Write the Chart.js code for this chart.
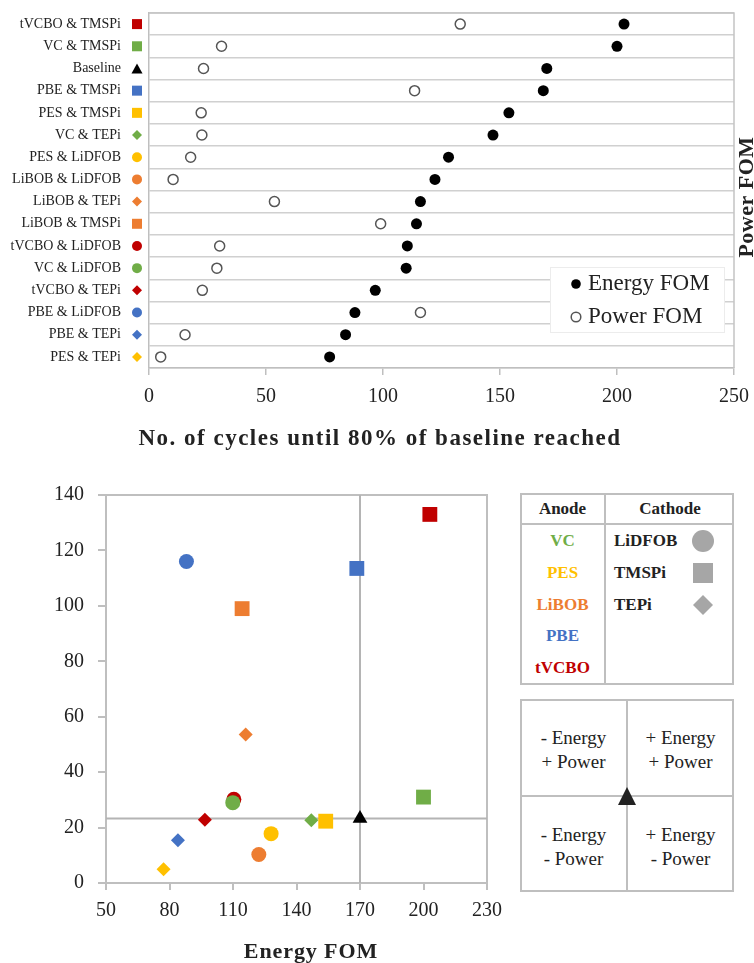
<!DOCTYPE html>
<html>
<head>
<meta charset="utf-8">
<script src="https://cdn.jsdelivr.net/npm/chart.js@4.4.1/dist/chart.umd.min.js"></script>
<style>
  html, body { margin: 0; padding: 0; background: #fff; }
  body { width: 754px; height: 963px; position: relative; overflow: hidden;
         font-family: 'Liberation Serif', 'Times New Roman', serif; color: #222; }
  #rankWrap { position: absolute; left: 0; top: 0; }
  #fomWrap  { position: absolute; left: 0; top: 470px; }
  .panel { position: absolute; }
  .frame { position: absolute; left: 0; top: 0; right: 0; bottom: 0; border: 2px solid #bfbfbf; }
  .rule  { position: absolute; background: #bfbfbf; }
  .cell  { position: absolute; display: flex; align-items: center; white-space: nowrap; }
</style>
</head>
<body>
<div id="rankWrap"><canvas id="rankChart" width="754" height="465"></canvas></div>
<div id="fomWrap"><canvas id="fomChart" width="515" height="493"></canvas></div>
<div id="keyPanel" class="panel"></div>
<div id="quadPanel" class="panel"></div>

<script>
// ---------- data ----------
const combos = [
  'tVCBO & TMSPi', 'VC & TMSPi', 'Baseline', 'PBE & TMSPi', 'PES & TMSPi', 'VC & TEPi',
  'PES & LiDFOB', 'LiBOB & LiDFOB', 'LiBOB & TEPi', 'LiBOB & TMSPi', 'tVCBO & LiDFOB',
  'VC & LiDFOB', 'tVCBO & TEPi', 'PBE & LiDFOB', 'PBE & TEPi', 'PES & TEPi'
];
const energyFOM = [203, 200, 170, 168.5, 153.8, 147, 128, 122.2, 116, 114.3, 110.4, 109.9, 96.7, 88, 84, 77.2];
const powerFOM  = [133, 31, 23.3, 113.5, 22.3, 22.6, 17.8, 10.3, 53.6, 99, 30.2, 29, 22.8, 116, 15.4, 5];

const anodes      = ['VC', 'PES', 'LiBOB', 'PBE', 'tVCBO'];
const anodeColors = ['#70AD47', '#FFC000', '#ED7D31', '#4472C4', '#C00000'];
const cathodes    = ['LiDFOB', 'TMSPi', 'TEPi'];
const cathodeShapes = ['circle', 'rect', 'rectRot'];

const cycleTicks  = [0, 50, 100, 150, 200, 250];
const energyTicks = [50, 80, 110, 140, 170, 200, 230];
const powerTicks  = [0, 20, 40, 60, 80, 100, 120, 140];

const quadrantText = [
  ['- Energy', '+ Power'], ['+ Energy', '+ Power'],
  ['- Energy', '- Power'], ['+ Energy', '- Power']
];

// ---------- helpers ----------
const SERIF = "'Liberation Serif', 'Times New Roman', serif";
Chart.defaults.font.family = SERIF;
Chart.defaults.color = '#222';

function partsOf(label) {
  const [a, c] = label.split(' & ');
  return { anode: a, cathode: c };
}
function colorOf(label) {
  if (label === 'Baseline') return '#000';
  return anodeColors[anodes.indexOf(partsOf(label).anode)];
}
function shapeOf(label) {
  if (label === 'Baseline') return 'triangle';
  return cathodeShapes[cathodes.indexOf(partsOf(label).cathode)];
}
const scatterRadius = { circle: 7.5, rect: 10.5, rectRot: 7, triangle: 8.5 };

function drawMarker(ctx, shape, x, y, s, color) {
  ctx.save();
  ctx.fillStyle = color;
  ctx.beginPath();
  if (shape === 'circle') {
    ctx.arc(x, y, s / 2, 0, Math.PI * 2);
  } else if (shape === 'rect') {
    ctx.rect(x - s / 2, y - s / 2, s, s);
  } else if (shape === 'rectRot') {
    ctx.moveTo(x, y - s / 2); ctx.lineTo(x + s / 2, y);
    ctx.lineTo(x, y + s / 2); ctx.lineTo(x - s / 2, y);
    ctx.closePath();
  } else {
    ctx.moveTo(x, y - s / 2); ctx.lineTo(x + s * 0.55, y + s / 2);
    ctx.lineTo(x - s * 0.55, y + s / 2); ctx.closePath();
  }
  ctx.fill();
  ctx.restore();
}

// keep the plot area exactly where the layout puts it (no extra label overhang)
function noOverhang(s) {
  s.paddingTop = 0; s.paddingBottom = 0; s.paddingLeft = 0; s.paddingRight = 0;
}

// ---------- plugins ----------
const plotFrame = {
  id: 'plotFrame',
  beforeDatasetsDraw(chart, args, opts) {
    const { ctx, chartArea: a } = chart;
    ctx.save();
    ctx.strokeStyle = opts.color;
    ctx.lineWidth = opts.width;
    ctx.beginPath();
    ctx.moveTo(a.left, a.top);
    ctx.lineTo(a.right, a.top);
    ctx.lineTo(a.right, a.bottom);
    ctx.stroke();
    ctx.restore();
  }
};

const labelMarkers = {
  id: 'labelMarkers',
  afterDraw(chart, args, opts) {
    const ys = chart.scales.y;
    chart.data.labels.forEach((lab, i) => {
      drawMarker(chart.ctx, shapeOf(lab), opts.x, ys.getPixelForValue(i), opts.size, colorOf(lab));
    });
  }
};

const insetLegend = {
  id: 'insetLegend',
  afterDatasetsDraw(chart, args, opts) {
    const { ctx, chartArea: a } = chart;
    const x0 = a.right - opts.right - opts.width;
    const y0 = a.bottom - opts.bottom - opts.height;
    ctx.save();
    ctx.fillStyle = '#fff';
    ctx.fillRect(x0, y0, opts.width, opts.height);
    ctx.strokeStyle = '#ececec';
    ctx.lineWidth = 1;
    ctx.strokeRect(x0 + 0.5, y0 + 0.5, opts.width - 1, opts.height - 1);
    chart.data.datasets.forEach((ds, i) => {
      const cy = y0 + opts.firstRow + i * opts.rowGap;
      ctx.beginPath();
      ctx.arc(x0 + opts.markerX, cy, opts.markerR, 0, Math.PI * 2);
      ctx.fillStyle = ds.pointBackgroundColor;
      ctx.fill();
      if (ds.pointBorderWidth) {
        ctx.lineWidth = ds.pointBorderWidth;
        ctx.strokeStyle = ds.pointBorderColor;
        ctx.stroke();
      }
      ctx.fillStyle = '#222';
      ctx.font = opts.fontSize + 'px ' + SERIF;
      ctx.textBaseline = 'middle';
      ctx.textAlign = 'left';
      ctx.fillText(ds.label, x0 + opts.textX, cy);
    });
    ctx.restore();
  }
};

// bold captions (axis titles), optionally rotated, with a little tracking
const captions = {
  id: 'captions',
  afterDraw(chart, args, opts) {
    const ctx = chart.ctx;
    (opts.items || []).forEach(c => {
      ctx.save();
      ctx.translate(c.x, c.y);
      if (c.rotate) ctx.rotate(c.rotate);
      ctx.font = 'bold ' + c.size + 'px ' + SERIF;
      if ('letterSpacing' in ctx) ctx.letterSpacing = (c.spacing || 0) + 'px';
      ctx.fillStyle = '#222';
      ctx.textAlign = 'center';
      ctx.textBaseline = 'alphabetic';
      ctx.fillText(c.text, 0, 0);
      ctx.restore();
    });
  }
};

// ---------- ranking chart (cycles until 80% of baseline) ----------
new Chart(document.getElementById('rankChart'), {
  type: 'line',
  data: {
    labels: combos,
    datasets: [
      { label: 'Energy FOM', data: energyFOM, showLine: false,
        pointRadius: 5.5, pointBackgroundColor: '#000', pointBorderColor: '#000', pointBorderWidth: 0 },
      { label: 'Power FOM', data: powerFOM, showLine: false,
        pointRadius: 5, pointBackgroundColor: '#fff', pointBorderColor: '#555', pointBorderWidth: 1.5 }
    ]
  },
  options: {
    indexAxis: 'y',
    responsive: false,
    animation: false,
    events: [],
    layout: { padding: { left: 0, top: 13, right: 20, bottom: 0 } },
    scales: {
      x: {
        type: 'linear', position: 'bottom',
        min: cycleTicks[0], max: cycleTicks[cycleTicks.length - 1],
        ticks: { stepSize: cycleTicks[1] - cycleTicks[0], padding: 10, font: { size: 20 }, color: '#222' },
        grid: { drawOnChartArea: false, drawTicks: true, tickLength: 7, color: '#bfbfbf', lineWidth: 1.5 },
        border: { color: '#bfbfbf', width: 1.5 },
        afterFit(s) { s.height = 97; noOverhang(s); }
      },
      y: {
        type: 'category', offset: true,
        ticks: { autoSkip: false, padding: 28, font: { size: 14 }, color: '#222' },
        grid: { offset: true, drawTicks: false, color: '#d0d0d0', lineWidth: 1.5 },
        border: { color: '#bfbfbf', width: 1.5 },
        afterFit(s) { s.width = 149; noOverhang(s); }
      }
    },
    plugins: {
      legend: { display: false },
      tooltip: { enabled: false },
      plotFrame: { color: '#c4c4c4', width: 1.5 },
      labelMarkers: { x: 137, size: 10 },
      insetLegend: { width: 175, height: 66, right: 9, bottom: 35, firstRow: 17, rowGap: 33,
                     markerX: 26, markerR: 4.8, textX: 38, fontSize: 23 },
      captions: { items: [
        { text: 'No. of cycles until 80% of baseline reached', x: 380, y: 445, size: 23, spacing: 1.5 },
        { text: 'Power FOM', x: 753, y: 197, size: 22, spacing: 0.5, rotate: -Math.PI / 2 }
      ] }
    }
  },
  plugins: [plotFrame, labelMarkers, insetLegend, captions]
});

// ---------- energy vs power scatter ----------
const baseIdx = combos.indexOf('Baseline');
const baseE = energyFOM[baseIdx];
const baseP = powerFOM[baseIdx];
const eMin = energyTicks[0], eMax = energyTicks[energyTicks.length - 1];
const pMin = powerTicks[0], pMax = powerTicks[powerTicks.length - 1];

new Chart(document.getElementById('fomChart'), {
  type: 'scatter',
  data: {
    datasets: [
      {
        label: 'Electrolytes',
        data: combos.map((c, i) => ({ x: energyFOM[i], y: powerFOM[i] })),
        pointStyle: combos.map(shapeOf),
        pointRadius: combos.map(c => scatterRadius[shapeOf(c)]),
        pointBackgroundColor: combos.map(colorOf),
        pointBorderColor: combos.map(colorOf),
        pointBorderWidth: 0
      },
      {
        label: 'Baseline energy',
        data: [{ x: baseE, y: pMin }, { x: baseE, y: pMax }],
        showLine: true, borderColor: '#b4b4b4', borderWidth: 2, pointRadius: 0
      },
      {
        label: 'Baseline power',
        data: [{ x: eMin, y: baseP }, { x: eMax, y: baseP }],
        showLine: true, borderColor: '#b4b4b4', borderWidth: 2, pointRadius: 0
      }
    ]
  },
  options: {
    responsive: false,
    animation: false,
    events: [],
    layout: { padding: { left: 0, top: 25, right: 28, bottom: 0 } },
    scales: {
      x: {
        type: 'linear', min: eMin, max: eMax,
        ticks: { stepSize: energyTicks[1] - energyTicks[0], padding: 9, font: { size: 20 }, color: '#222' },
        grid: { drawOnChartArea: false, drawTicks: true, tickLength: 7, color: '#bfbfbf', lineWidth: 2 },
        border: { color: '#bfbfbf', width: 2 },
        afterFit(s) { s.height = 80; noOverhang(s); }
      },
      y: {
        type: 'linear', min: pMin, max: pMax,
        ticks: { stepSize: powerTicks[1] - powerTicks[0], padding: 14, font: { size: 20 }, color: '#222' },
        grid: { drawOnChartArea: false, drawTicks: true, tickLength: 8, color: '#bfbfbf', lineWidth: 2 },
        border: { color: '#bfbfbf', width: 2 },
        afterFit(s) { s.width = 106; noOverhang(s); }
      }
    },
    plugins: {
      legend: { display: false },
      tooltip: { enabled: false },
      plotFrame: { color: '#bfbfbf', width: 2 },
      captions: { items: [
        { text: 'Energy FOM', x: 311, y: 488, size: 22, spacing: 0.9 }
      ] }
    }
  },
  plugins: [plotFrame, captions]
});

// ---------- key tables ----------
function el(parent, cls, css, html) {
  const d = document.createElement('div');
  if (cls) d.className = cls;
  Object.assign(d.style, css);
  if (html !== undefined) d.innerHTML = html;
  parent.appendChild(d);
  return d;
}
function markerSvg(shape, color) {
  const g = {
    circle: '<circle cx="11" cy="11" r="11"/>',
    rect: '<rect x="1" y="1" width="20" height="20"/>',
    rectRot: '<polygon points="11,1 21,11 11,21 1,11"/>',
    triangle: '<polygon points="9,0 18,18 0,18"/>'
  }[shape];
  const size = shape === 'triangle' ? 18 : 22;
  return '<svg width="' + size + '" height="' + size + '" viewBox="0 0 ' + size + ' ' + size +
         '" fill="' + color + '">' + g + '</svg>';
}

// anode / cathode key
const key = document.getElementById('keyPanel');
Object.assign(key.style, { left: '520px', top: '493px', width: '214px', height: '192px' });
el(key, 'frame', {});
el(key, 'rule', { left: '0', top: '30px', width: '214px', height: '2px' });
el(key, 'rule', { left: '84px', top: '0', width: '2px', height: '192px' });
const hdr = { fontWeight: 'bold', fontSize: '17px', justifyContent: 'center', height: '30px', top: '1px', color: '#222' };
el(key, 'cell', Object.assign({ left: '0', width: '85px' }, hdr), 'Anode');
el(key, 'cell', Object.assign({ left: '86px', width: '128px' }, hdr), 'Cathode');
anodes.forEach((a, i) => {
  el(key, 'cell', { left: '0', width: '85px', top: (33 + i * 31.75) + 'px', height: '30px',
    justifyContent: 'center', fontWeight: 'bold', fontSize: '17px', color: anodeColors[i] }, a);
});
cathodes.forEach((c, i) => {
  el(key, 'cell', { left: '94px', width: '80px', top: (33 + i * 31.75) + 'px', height: '30px',
    fontWeight: 'bold', fontSize: '17px', color: '#222' }, c);
  el(key, 'cell', { left: '172px', width: '22px', top: (37 + i * 31.75) + 'px', height: '22px' },
     markerSvg(cathodeShapes[i], '#a6a6a6'));
});

// quadrant key
const quad = document.getElementById('quadPanel');
Object.assign(quad.style, { left: '520px', top: '699px', width: '214px', height: '193px' });
el(quad, 'frame', {});
el(quad, 'rule', { left: '0', top: '96px', width: '214px', height: '2px' });
el(quad, 'rule', { left: '106px', top: '0', width: '2px', height: '193px' });
quadrantText.forEach((lines, i) => {
  const col = i % 2, row = Math.floor(i / 2);
  el(quad, 'cell', {
    left: (col * 107) + 'px', width: '107px', top: (row * 97 + 2) + 'px', height: '97px',
    justifyContent: 'center', textAlign: 'center', fontSize: '19px', lineHeight: '24px', color: '#222'
  }, lines.join('<br>'));
});
el(quad, 'cell', { left: '98px', top: '88px', width: '18px', height: '18px' }, markerSvg('triangle', '#222'));
</script>
</body>
</html>
